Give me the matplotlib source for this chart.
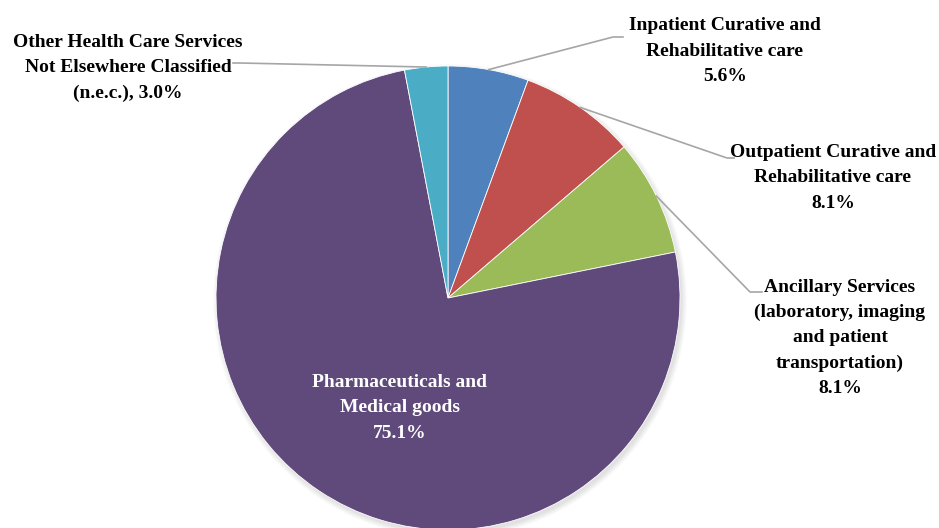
import numpy as np
import matplotlib.pyplot as plt
from matplotlib.patches import Circle

# Share of spending by health care function
categories = ['Inpatient Curative and\nRehabilitative care',
              'Outpatient Curative and\nRehabilitative care',
              'Ancillary Services\n(laboratory, imaging\nand patient\ntransportation)',
              'Pharmaceuticals and\nMedical goods',
              'Other Health Care Services\nNot Elsewhere Classified\n(n.e.c.),']
shares = [5.6, 8.1, 8.1, 75.1, 3.0]
colors = ['#4F81BD', '#C0504D', '#9BBB59', '#604A7B', '#4BACC6']

W, H = 939, 528
fig = plt.figure(figsize=(W / 100, H / 100), dpi=100)
ax = fig.add_axes([0, 0, 1, 1])

cx, cy, r = 448, H - 298, 232

# soft shadow under the pie
for k in range(10):
    ax.add_patch(Circle((cx + 2, cy - 3), r + 5 - k * 0.6, color='black',
                        alpha=0.01, lw=0, zorder=0))

wedges, _ = ax.pie(shares, colors=colors, startangle=90, counterclock=False,
                   center=(cx, cy), radius=r,
                   wedgeprops=dict(edgecolor='white', linewidth=0.6, zorder=1))

ax.set_xlim(0, W)
ax.set_ylim(0, H)
ax.set_aspect('equal')
ax.axis('off')

font = dict(family='Liberation Serif', fontweight='bold', fontsize=14,
            ha='center', va='center', linespacing=1.62)
line_kw = dict(color='#A6A6A6', lw=1.2, zorder=2)


def edge_point(w):
    a = np.deg2rad((w.theta1 + w.theta2) / 2)
    return cx + r * np.cos(a), cy + r * np.sin(a)


# outside labels: (wedge index, elbow, end of leader, text centre)
outside = [
    (0, (613, 37), (623, 37), (725, 51)),
    (1, (727, 158), (734, 158), (833, 178)),
    (2, (750, 292), (762, 292), (840, 338)),
    (4, (240, 63), (233, 63), (128, 68)),
]
for i, elbow, end, pos in outside:
    x0, y0 = edge_point(wedges[i])
    ax.plot([x0, elbow[0], end[0]], [y0, H - elbow[1], H - end[1]], **line_kw)
    if i == 4:
        txt = f'{categories[i]} {shares[i]:.1f}%'
    else:
        txt = f'{categories[i]}\n{shares[i]:.1f}%'
    ax.text(pos[0], H - pos[1], txt, color='black', **font)

ax.text(400, H - 408, f'{categories[3]}\n{shares[3]:.1f}%', color='white', **font)

fig.savefig('out.png', dpi=100)
